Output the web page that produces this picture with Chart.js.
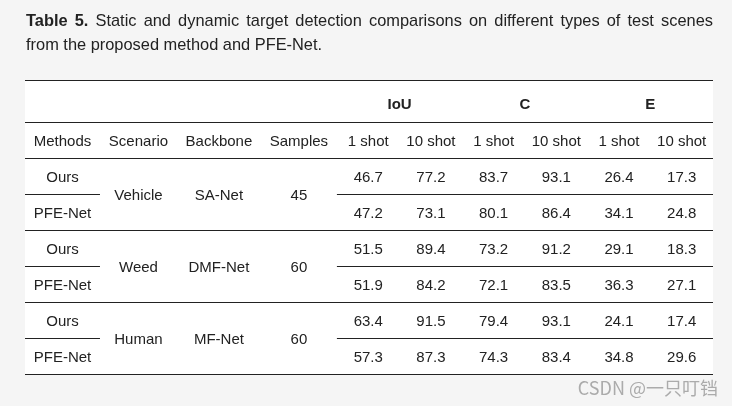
<!DOCTYPE html>
<html>
<head>
<meta charset="utf-8">
<script src="https://cdn.jsdelivr.net/npm/chart.js@4.4.0/dist/chart.umd.min.js"></script>
<style>
html, body { margin: 0; padding: 0; background: #f5f5f5; }
#wrap { position: relative; width: 732px; height: 406px; }
#chart { position: absolute; left: 0; top: 0; }
#caption {
  position: absolute; left: 26px; top: 8px; width: 687px;
  font: 16.4px/24px "Liberation Sans", Arial, sans-serif; color: #222;
}
#caption .l1 { text-align: justify; text-align-last: justify; white-space: nowrap; }
</style>
</head>
<body>
<div id="wrap">
  <canvas id="chart" width="732" height="406"></canvas>
  <div id="caption">
    <div class="l1"><b>Table 5.</b> Static and dynamic target detection comparisons on different types of test scenes</div>
    <div>from the proposed method and PFE-Net.</div>
  </div>
</div>
<script>
// table content
const metrics = ['IoU', 'C', 'E'];
const shots = ['1 shot', '10 shot'];
const headCols = ['Methods', 'Scenario', 'Backbone', 'Samples'];
const methods = ['Ours', 'PFE-Net'];
const scenarios = ['Vehicle', 'Weed', 'Human'];
const backbones = ['SA-Net', 'DMF-Net', 'MF-Net'];
const samples = [45, 60, 60];
const iou1 = [46.7, 47.2, 51.5, 51.9, 63.4, 57.3];
const iou10 = [77.2, 73.1, 89.4, 84.2, 91.5, 87.3];
const c1 = [83.7, 80.1, 73.2, 72.1, 79.4, 74.3];
const c10 = [93.1, 86.4, 91.2, 83.5, 93.1, 83.4];
const e1 = [26.4, 34.1, 29.1, 36.3, 24.1, 34.8];
const e10 = [17.3, 24.8, 18.3, 27.1, 17.4, 29.6];
const watermark = 'CSDN @一只叮铛';

// layout (table units = px inside the chart area)
const colWidths = [75, 77, 84, 76, 62.7, 62.7, 62.7, 62.7, 62.7, 62.7];
const rowHeights = [42, 36, 36, 36, 36, 36, 36, 36];
const FONT = '"Liberation Sans", Arial, sans-serif';
const INK = '#222';
const TEXT_DY = 1.5;

const colEdges = [0];
colWidths.forEach(w => colEdges.push(colEdges[colEdges.length - 1] + w));
const rowEdges = [0];
rowHeights.forEach(h => rowEdges.push(rowEdges[rowEdges.length - 1] + h));

// cells: col, row, spans, text
const cells = [];
metrics.forEach((m, i) => cells.push({ col: 4 + 2 * i, row: 0, cs: 2, rs: 1, text: m, bold: true, dy: 2 }));
headCols.forEach((h, i) => cells.push({ col: i, row: 1, cs: 1, rs: 1, text: h }));
for (let i = 0; i < 6; i++) {
  cells.push({ col: 4 + i, row: 1, cs: 1, rs: 1, text: shots[i % 2] });
}
const valueCols = [iou1, iou10, c1, c10, e1, e10];
for (let r = 0; r < 6; r++) {
  const row = 2 + r;
  cells.push({ col: 0, row: row, cs: 1, rs: 1, text: methods[r % 2] });
  valueCols.forEach((arr, k) => cells.push({ col: 4 + k, row: row, cs: 1, rs: 1, text: arr[r].toFixed(1) }));
}
for (let g = 0; g < 3; g++) {
  const row = 2 + 2 * g;
  cells.push({ col: 1, row: row, cs: 1, rs: 2, text: scenarios[g] });
  cells.push({ col: 2, row: row, cs: 1, rs: 2, text: backbones[g] });
  cells.push({ col: 3, row: row, cs: 1, rs: 2, text: String(samples[g]) });
}

const tablePlugin = {
  id: 'tableCells',
  beforeDraw(chart) {
    const { ctx, chartArea: a } = chart;
    ctx.save();
    ctx.fillStyle = '#fff';
    ctx.fillRect(a.left, a.top, a.right - a.left, a.bottom - a.top);
    ctx.restore();
  },
  afterDraw(chart) {
    const ctx = chart.ctx;
    const xs = chart.scales.x, ys = chart.scales.y;
    ctx.save();

    // rules
    ctx.strokeStyle = INK;
    ctx.lineWidth = 1;
    const hline = (edge, c0, c1) => {
      const py = Math.round(ys.getPixelForValue(rowEdges[edge])) + 0.5;
      ctx.beginPath();
      ctx.moveTo(xs.getPixelForValue(colEdges[c0]), py);
      ctx.lineTo(xs.getPixelForValue(colEdges[c1]), py);
      ctx.stroke();
    };
    [0, 1, 2, 4, 6, 8].forEach(e => hline(e, 0, 10));
    [3, 5, 7].forEach(e => { hline(e, 0, 1); hline(e, 4, 10); });

    // text
    ctx.fillStyle = INK;
    ctx.textAlign = 'center';
    ctx.textBaseline = 'middle';
    cells.forEach(c => {
      const cx = (colEdges[c.col] + colEdges[c.col + c.cs]) / 2;
      const cy = (rowEdges[c.row] + rowEdges[c.row + c.rs]) / 2 + TEXT_DY + (c.dy || 0);
      ctx.font = (c.bold ? 'bold ' : '') + '15px ' + FONT;
      ctx.fillText(c.text, xs.getPixelForValue(cx), ys.getPixelForValue(cy));
    });

    // watermark
    ctx.font = '18px "Noto Sans CJK SC", ' + FONT;
    ctx.fillStyle = '#ababab';
    ctx.textAlign = 'right';
    ctx.fillText(watermark, 718, 388);
    ctx.restore();
  }
};

new Chart(document.getElementById('chart'), {
  type: 'scatter',
  data: { datasets: [] },
  options: {
    responsive: false,
    animation: false,
    layout: { padding: { left: 25, right: 19, top: 80, bottom: 32 } },
    scales: {
      x: { type: 'linear', display: false, min: 0, max: colEdges[colEdges.length - 1] },
      y: { type: 'linear', display: false, reverse: true, min: 0, max: rowEdges[rowEdges.length - 1] }
    },
    plugins: { legend: { display: false }, tooltip: { enabled: false } }
  },
  plugins: [tablePlugin]
});
</script>
</body>
</html>
